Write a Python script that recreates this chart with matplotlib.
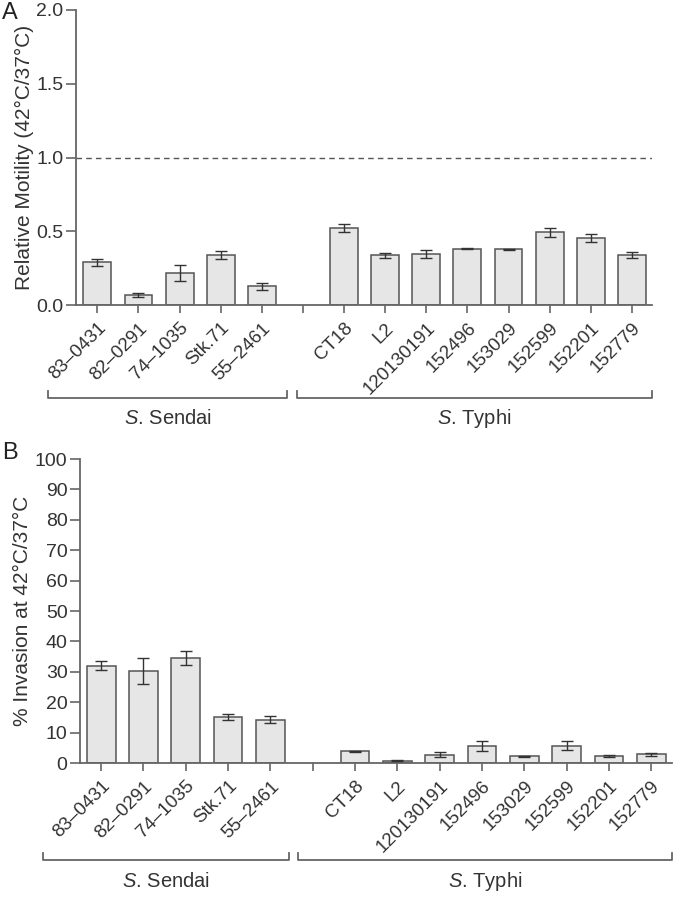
import matplotlib
matplotlib.use("Agg")
import matplotlib.pyplot as plt
import matplotlib.transforms as mtransforms
import numpy as np

plt.rcParams['font.family'] = ['Liberation Sans', 'DejaVu Sans']
plt.rcParams['mathtext.fontset'] = 'custom'
plt.rcParams['mathtext.it'] = 'Liberation Sans:italic'
plt.rcParams['mathtext.rm'] = 'Liberation Sans'

sendai = ["83\u20130431", "82\u20130291", "74\u20131035", "Stk.71", "55\u20132461"]
typhi = ["CT18", "L2", "120130191", "152496", "153029", "152599", "152201", "152779"]

motility_sendai = [0.29, 0.065, 0.217, 0.34, 0.126]
motility_sendai_err = [0.025, 0.013, 0.053, 0.026, 0.025]
motility_typhi = [0.522, 0.337, 0.347, 0.383, 0.377, 0.492, 0.455, 0.339]
motility_typhi_err = [0.025, 0.018, 0.025, 0.006, 0.006, 0.033, 0.026, 0.02]

invasion_sendai = [32.0, 30.3, 34.6, 15.1, 14.2]
invasion_sendai_err = [1.4, 4.3, 2.2, 1.0, 1.2]
invasion_typhi = [3.8, 0.75, 2.7, 5.5, 2.2, 5.7, 2.3, 2.8]
invasion_typhi_err = [0.3, 0.1, 0.8, 1.6, 0.2, 1.4, 0.2, 0.4]

W, H = 676, 899
fig = plt.figure(figsize=(W / 100, H / 100), dpi=100)

def ax_rect(l, r, t, b):
    return [l / W, 1 - b / H, (r - l) / W, (b - t) / H]

TXT = '#333333'
LINE = '#666666'
FILL = '#e6e6e6'
EDGE = '#555555'

labels = sendai + [""] + typhi
pos_s = np.arange(len(sendai))
pos_t = np.arange(len(typhi)) + len(sendai) + 1
all_pos = np.arange(len(labels))

def panel(ax, vs, es, vt, et, xlim, ylim, yticks, yfmt, ylabel, letter, brk, letter_xy):
    ax.bar(pos_s, vs, width=0.68, color=FILL, edgecolor=EDGE, linewidth=1.1, zorder=2)
    ax.bar(pos_t, vt, width=0.68, color=FILL, edgecolor=EDGE, linewidth=1.1, zorder=2)
    ax.errorbar(pos_s, vs, yerr=es, fmt='none', ecolor='#333333', elinewidth=1.0,
                capsize=4.6, capthick=1.0, zorder=3)
    ax.errorbar(pos_t, vt, yerr=et, fmt='none', ecolor='#333333', elinewidth=1.0,
                capsize=4.6, capthick=1.0, zorder=3)
    ax.set_xlim(*xlim)
    ax.set_ylim(*ylim)
    ax.set_yticks(yticks)
    ax.set_yticklabels([yfmt.format(v) for v in yticks])
    ax.set_xticks(all_pos)
    ax.set_xticklabels(labels, rotation=45, ha='right', rotation_mode='anchor')
    for s in ['top', 'right']:
        ax.spines[s].set_visible(False)
    for s in ['left', 'bottom']:
        ax.spines[s].set_color(LINE)
        ax.spines[s].set_linewidth(1.3)
    ax.tick_params(axis='y', direction='out', length=7, width=1.2, color=LINE,
                   labelsize=14, labelcolor=TXT, pad=2)
    ax.tick_params(axis='x', direction='out', length=5.5, width=1.2, color=LINE,
                   labelsize=13.5, labelcolor=TXT, pad=5)
    ax.set_ylabel(ylabel, fontsize=15, color=TXT, labelpad=2)
    fig.text(letter_xy[0] / W, 1 - letter_xy[1] / H, letter, fontsize=17, color='#222222',
             ha='left', va='center')
    trans = mtransforms.blended_transform_factory(ax.transData, ax.transAxes)
    by, th, ly = brk['y'], brk['tick'], brk['label_y']
    for (x0, x1, txt) in brk['groups']:
        ax.plot([x0, x0, x1, x1], [by + th, by, by, by + th], color=LINE, lw=1.3,
                transform=trans, clip_on=False)
        ax.text((x0 + x1) / 2, ly, txt, transform=trans, ha='center', va='center',
                fontsize=14.5, color=TXT)

# Panel A
axA = fig.add_axes(ax_rect(76, 652, 10, 305))
panel(axA, motility_sendai, motility_sendai_err, motility_typhi, motility_typhi_err,
      (-0.52, 13.49), (0, 2.0), [0.0, 0.5, 1.0, 1.5, 2.0], "{:.1f}",
      "Relative Motility (42\u00b0C/37\u00b0C)", "A",
      {'y': -0.315, 'tick': 0.025, 'label_y': -0.385,
       'groups': [(-1.2, 4.61, r"$\it{S}$. Sendai"), (4.85, 13.49, r"$\it{S}$. Typhi")]},
      (2, 13))
axA.axhline(1.0, color='#555555', lw=1.0, ls=(0, (4, 3)), zorder=1)

# Panel B
axB = fig.add_axes(ax_rect(80, 672, 459, 763))
panel(axB, invasion_sendai, invasion_sendai_err, invasion_typhi, invasion_typhi_err,
      (-0.5, 13.49), (0, 100), list(range(0, 101, 10)), "{:d}",
      "% Invasion at 42\u00b0C/37\u00b0C", "B",
      {'y': -0.32, 'tick': 0.023, 'label_y': -0.39,
       'groups': [(-1.37, 4.44, r"$\it{S}$. Sendai"), (4.65, 13.5, r"$\it{S}$. Typhi")]},
      (2, 453))

fig.savefig("out.png", dpi=100)
